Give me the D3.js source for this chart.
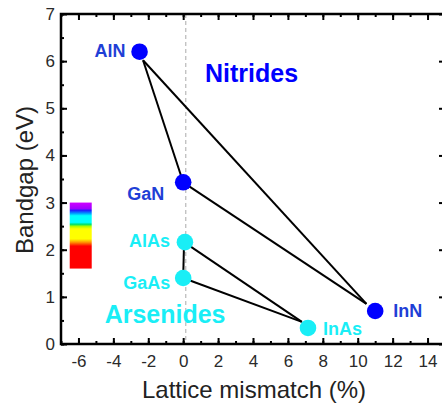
<!DOCTYPE html>
<html>
<head>
<meta charset="utf-8">
<script src="https://cdn.jsdelivr.net/npm/d3@7"></script>
<style>
  html, body { margin: 0; padding: 0; background: #fff; }
  svg { display: block; font-family: "Liberation Sans", Arial, sans-serif; }
</style>
</head>
<body>
<svg id="chart" width="442" height="404"></svg>
<script>
// Compound semiconductors: lattice mismatch vs bandgap
const compounds = ["AlN", "GaN", "InN", "AlAs", "GaAs", "InAs"];
const family    = ["N", "N", "N", "As", "As", "As"];
const mismatch  = [-2.5, 0.0, 11.0, 0.1, 0.0, 7.15];
const bandgap   = [6.2, 3.43, 0.7, 2.16, 1.4, 0.34];

// tie-line vertices for each compound (same order as above)
const tieX = [-2.3, 0.0, 10.5, 0.05, 0.0, 6.8];
const tieY = [6.02, 3.43, 0.85, 2.16, 1.4, 0.47];
// pairs of compounds joined by tie lines
const tiePairs = [["AlN", "GaN"], ["AlN", "InN"], ["GaN", "InN"],
                  ["AlAs", "GaAs"], ["AlAs", "InAs"], ["GaAs", "InAs"]];

const xTicks = [-6, -4, -2, 0, 2, 4, 6, 8, 10, 12, 14];
const yTicks = [0, 1, 2, 3, 4, 5, 6, 7];
const groupLabels = ["Nitrides", "Arsenides"];
const groupX = [1.25, -4.5];
const groupY = [5.56, 0.45];

// visible spectrum swatch, bottom to top in eV
const spectrumColors = ["#ff0000", "#ff0000", "#ff9900", "#ffff00", "#ffff00", "#a8ff00", "#00e070", "#00ffff", "#00ffff", "#0090ff", "#2020ff", "#a000ff", "#d000ff"];
const spectrumRange = [1.6, 3.0];

const svg = d3.select("#chart");
const m = { left: 61, right: 445, top: 14, bottom: 344 };

const x = d3.scaleLinear().domain([-7, 15]).range([m.left, m.right]);
const y = d3.scaleLinear().domain([0, 7]).range([m.bottom, m.top]);

const blue = "#0000ff", blueText = "#1f3fd6", cyan = "#19eef6";
const colorOf = i => family[i] === "N" ? blue : cyan;
const textColorOf = i => family[i] === "N" ? blueText : cyan;

// spectrum swatch
const defs = svg.append("defs");
const grad = defs.append("linearGradient").attr("id", "spectrum")
  .attr("x1", 0).attr("y1", 1).attr("x2", 0).attr("y2", 0);
const stops = [0, 0.34, 0.4, 0.45, 0.6, 0.64, 0.67, 0.7, 0.8, 0.84, 0.88, 0.91, 1];
grad.selectAll("stop").data(spectrumColors).join("stop")
  .attr("offset", (d, i) => stops[i]).attr("stop-color", d => d);
svg.append("rect")
  .attr("x", x(-6.5)).attr("width", x(-5.24) - x(-6.5))
  .attr("y", y(spectrumRange[1])).attr("height", y(spectrumRange[0]) - y(spectrumRange[1]))
  .attr("fill", "url(#spectrum)");

// dashed zero-mismatch line
svg.append("line")
  .attr("x1", x(0.15)).attr("x2", x(0.15)).attr("y1", m.top).attr("y2", m.bottom)
  .attr("stroke", "#aaa").attr("stroke-width", 1).attr("stroke-dasharray", "4,3");

// tie lines
const idx = Object.fromEntries(compounds.map((c, i) => [c, i]));
svg.append("g").selectAll("line").data(tiePairs).join("line")
  .attr("x1", d => x(tieX[idx[d[0]]])).attr("y1", d => y(tieY[idx[d[0]]]))
  .attr("x2", d => x(tieX[idx[d[1]]])).attr("y2", d => y(tieY[idx[d[1]]]))
  .attr("stroke", "#000").attr("stroke-width", 2);

// compound markers
svg.append("g").selectAll("circle").data(compounds).join("circle")
  .attr("cx", (d, i) => x(mismatch[i])).attr("cy", (d, i) => y(bandgap[i]))
  .attr("r", 8.3).attr("fill", (d, i) => colorOf(i));

// compound labels
const labelOffset = {
  AlN: [-14, 5, "end"], GaN: [-19, 18, "end"], InN: [18, 6, "start"],
  AlAs: [-15, 5, "end"], GaAs: [-13, 11, "end"], InAs: [15, 7, "start"]
};
svg.append("g").selectAll("text").data(compounds).join("text")
  .attr("x", (d, i) => x(mismatch[i]) + labelOffset[d][0])
  .attr("y", (d, i) => y(bandgap[i]) + labelOffset[d][1])
  .attr("text-anchor", d => labelOffset[d][2])
  .attr("font-size", 18).attr("font-weight", "bold")
  .attr("fill", (d, i) => textColorOf(i))
  .text(d => d);

// group labels
svg.append("g").selectAll("text").data(groupLabels).join("text")
  .attr("x", (d, i) => x(groupX[i])).attr("y", (d, i) => y(groupY[i]))
  .attr("font-size", 25).attr("font-weight", "bold")
  .attr("fill", (d, i) => i === 0 ? blue : cyan)
  .text(d => d);

// axes: major ticks labelled, minor ticks between, all pointing inward
const xMinor = d3.range(-7, 15.01, 1);
const yMinor = d3.range(0, 7.01, 0.5);
const tickStyle = g => {
  g.select(".domain").remove();
  g.selectAll("line").attr("stroke", "#000").attr("stroke-width", 2);
  g.selectAll("text").attr("font-size", 17).attr("fill", "#2a2a2a");
};

svg.append("g").attr("transform", `translate(0,${m.bottom})`)
  .call(d3.axisBottom(x).tickValues(xMinor).tickSize(-3).tickFormat(""))
  .call(tickStyle);
svg.append("g").attr("transform", `translate(0,${m.bottom})`)
  .call(d3.axisBottom(x).tickValues(xTicks).tickSize(-6).tickFormat(d3.format("d")))
  .call(tickStyle)
  .call(g => g.selectAll("text").attr("dy", "0.71em").attr("y", 11).text(d => d < 0 ? "-" + Math.abs(d) : d));
svg.append("g").attr("transform", `translate(0,${m.top})`)
  .call(d3.axisTop(x).tickValues(xMinor).tickSize(-3).tickFormat("")).call(tickStyle);
svg.append("g").attr("transform", `translate(0,${m.top})`)
  .call(d3.axisTop(x).tickValues(xTicks).tickSize(-6).tickFormat("")).call(tickStyle);

svg.append("g").attr("transform", `translate(${m.left},0)`)
  .call(d3.axisLeft(y).tickValues(yMinor).tickSize(-3).tickFormat("")).call(tickStyle);
svg.append("g").attr("transform", `translate(${m.left},0)`)
  .call(d3.axisLeft(y).tickValues(yTicks).tickSize(-6).tickFormat(d3.format("d")))
  .call(tickStyle)
  .call(g => g.selectAll("text").attr("x", -6));
svg.append("g").attr("transform", `translate(${m.right},0)`)
  .call(d3.axisRight(y).tickValues(yMinor).tickSize(-3).tickFormat("")).call(tickStyle);
svg.append("g").attr("transform", `translate(${m.right},0)`)
  .call(d3.axisRight(y).tickValues(yTicks).tickSize(-6).tickFormat("")).call(tickStyle);

// frame
svg.append("rect")
  .attr("x", m.left).attr("y", m.top)
  .attr("width", m.right - m.left).attr("height", m.bottom - m.top)
  .attr("fill", "none").attr("stroke", "#000").attr("stroke-width", 2.5);

// axis titles
svg.append("text")
  .attr("x", 254).attr("y", 398)
  .attr("text-anchor", "middle").attr("font-size", 24).attr("fill", "#222")
  .text("Lattice mismatch (%)");
svg.append("text")
  .attr("transform", "translate(33,180) rotate(-90)")
  .attr("text-anchor", "middle").attr("font-size", 24).attr("fill", "#222")
  .text("Bandgap (eV)");
</script>
</body>
</html>
